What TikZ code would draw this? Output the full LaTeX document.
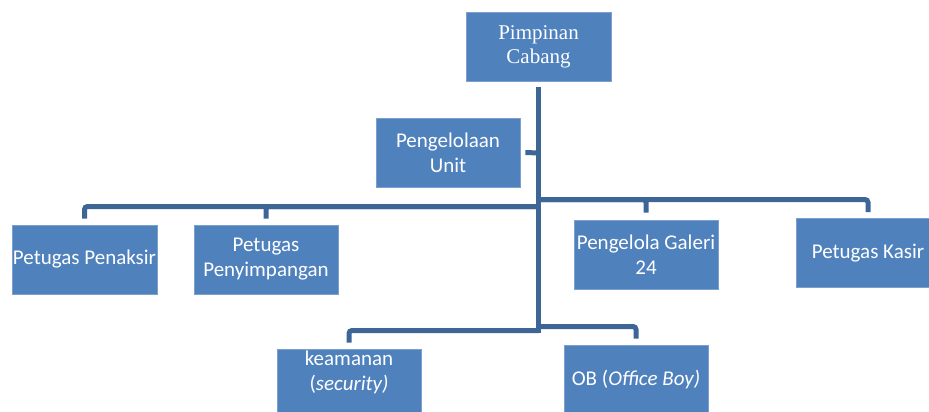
\documentclass[tikz,border=0pt]{standalone}
\usepackage{fontspec}
\setmainfont{Carlito}
\newfontfamily\tnr{Liberation Serif}
\definecolor{boxblue}{HTML}{4F81BD}
\definecolor{boxedge}{HTML}{7BA0CD}
\definecolor{linkblue}{HTML}{3D6697}
\begin{document}
\begin{tikzpicture}[x=1pt,y=-1pt,
  orgbox/.style={rectangle, fill=boxblue, draw=boxedge, line width=0.8pt, text=white,
    align=center, minimum width=145pt, minimum height=69pt, inner sep=0pt,
    font=\fontsize{21}{25}\selectfont},
  conn/.style={draw=linkblue, line width=5pt, rounded corners=3pt}]
\useasboundingbox (0,0) rectangle (929,412);
\fill[white] (0,0) rectangle (929,412);
% boxes
\node[orgbox, font=\tnr\fontsize{21}{24}\selectfont] (pc) at (538.5,46.5) {Pimpinan\\Cabang};
\node[orgbox, minimum width=144pt] (pu) at (448,152.5) {Pengelolaan\\Unit};
\node[orgbox] (pen) at (84.5,259.5) {Petugas Penaksir};
\node[orgbox, minimum width=144pt] (peny) at (266,259.5) {Petugas\\Penyimpangan};
\node[orgbox, minimum width=144pt] (gal) at (646,254.5) {Pengelola Galeri\\24};
\node[orgbox, minimum width=144pt] (kas) at (868,253) {Petugas Kasir};
\node[orgbox, minimum width=144pt,
  label={[text=white, align=center, font=\fontsize{21}{25}\selectfont, yshift=11pt]center:{keamanan\\(\textit{security)}}}] (kea) at (349,383.5) {};
\node[orgbox, minimum width=144pt] (ob) at (636,379.5) {OB (\textit{Office Boy)}};
% junctions
\coordinate (jpu) at (538.5,153);
\coordinate (jl) at (538.5,206.5);
\coordinate (jr) at (538.5,199.5);
\coordinate (jbr) at (538.5,326.5);
\coordinate (jbl) at (538.5,330.5);
\coordinate (tend) at (538.5,333);
% connectors
\draw[conn] ([yshift=-6pt]pc.south) -- (tend);
\draw[conn] (jpu) -- ([xshift=5pt]pu.east);
\draw[conn, shorten >=6pt] (jl) -| (pen.north);
\draw[conn, shorten >=6pt] (jl) -| (peny.north);
\draw[conn, shorten >=7pt] (jr) -| (gal.north);
\draw[conn, shorten >=6pt] (jr) -| (kas.north);
\draw[conn, shorten >=6pt] (jbl) -| (kea.north);
\draw[conn, shorten >=6pt] (jbr) -| (ob.north);
\end{tikzpicture}
\end{document}
